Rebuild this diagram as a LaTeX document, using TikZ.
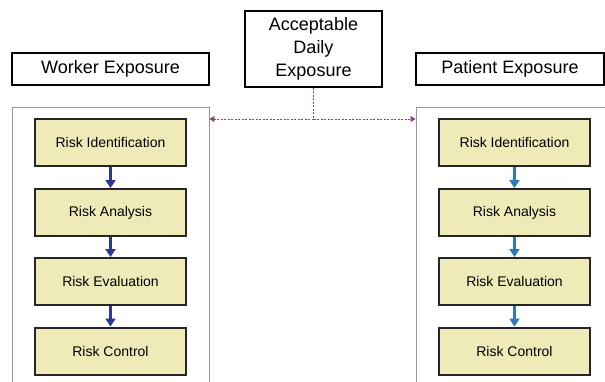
\documentclass[tikz,border=0pt]{standalone}
\usepackage{fontspec}
\setmainfont{Liberation Sans}
\usetikzlibrary{arrows.meta}
\definecolor{boxfill}{HTML}{EEEBB8}
\definecolor{leftarrow}{HTML}{2B3990}
\definecolor{rightarrow}{HTML}{2E7AB8}
\definecolor{dashcol}{HTML}{8E3F8E}
\tikzset{
  x=1pt, y=-1pt,
  header/.style={draw=black, line width=1.6pt, inner sep=0pt, font=\fontsize{18}{23}\selectfont, align=center},
  container/.style={draw=gray!80, line width=0.9pt, inner sep=0pt},
  riskbox/.style={draw=black!85, line width=2pt, fill=boxfill, minimum width=151pt, minimum height=47pt, inner sep=0pt, font=\fontsize{14}{16}\selectfont},
  flowL/.style={draw=leftarrow, line width=2.2pt, -{Triangle[length=8pt,width=10pt]}},
  flowR/.style={draw=rightarrow, line width=2.2pt, -{Triangle[length=8pt,width=10pt]}},
  link/.style={draw=dashcol, line width=0.6pt, dash pattern=on 2pt off 1.5pt},
  linkarrow/.style={link, -{Triangle[length=5pt,width=6pt]}}
}
\begin{document}
\begin{tikzpicture}
\useasboundingbox (0,0) rectangle (605,381);
\clip (0,0) rectangle (605,381);
% headers
\node[header, minimum width=197pt, minimum height=32pt] (we) at (110.5,69) {Worker Exposure};
\node[header, minimum width=188pt, minimum height=32pt] (pe) at (510,69) {Patient Exposure};
\node[header, minimum width=137pt, minimum height=76pt] (ade) at (313.5,49) {Acceptable\\Daily\\Exposure};
% containers
\node[container, minimum width=197pt, minimum height=290pt] (wc) at (110.5,252) {};
\node[container, minimum width=220pt, minimum height=290pt] (pc) at (526,252) {};
% left risk boxes
\node[riskbox] (l1) at (110.5,142.5) {Risk Identification};
\node[riskbox] (l2) at (110.5,212.5) {Risk Analysis};
\node[riskbox] (l3) at (110.5,281.5) {Risk Evaluation};
\node[riskbox] (l4) at (110.5,351) {Risk Control};
% right risk boxes
\node[riskbox] (r1) at (514.5,142.5) {Risk Identification};
\node[riskbox] (r2) at (514.5,212.5) {Risk Analysis};
\node[riskbox] (r3) at (514.5,281.5) {Risk Evaluation};
\node[riskbox] (r4) at (514.5,351) {Risk Control};
% flow arrows
\draw[flowL] (l1) -- (l2);
\draw[flowL] (l2) -- (l3);
\draw[flowL] (l3) -- (l4);
\draw[flowR] (r1) -- (r2);
\draw[flowR] (r2) -- (r3);
\draw[flowR] (r3) -- (r4);
% dashed link
\coordinate (j) at (313.5,119);
\draw[link] (ade.south) -- (j);
\draw[linkarrow] (j) -- (j -| wc.east);
\draw[linkarrow] (j) -- (j -| pc.west);
\end{tikzpicture}
\end{document}
